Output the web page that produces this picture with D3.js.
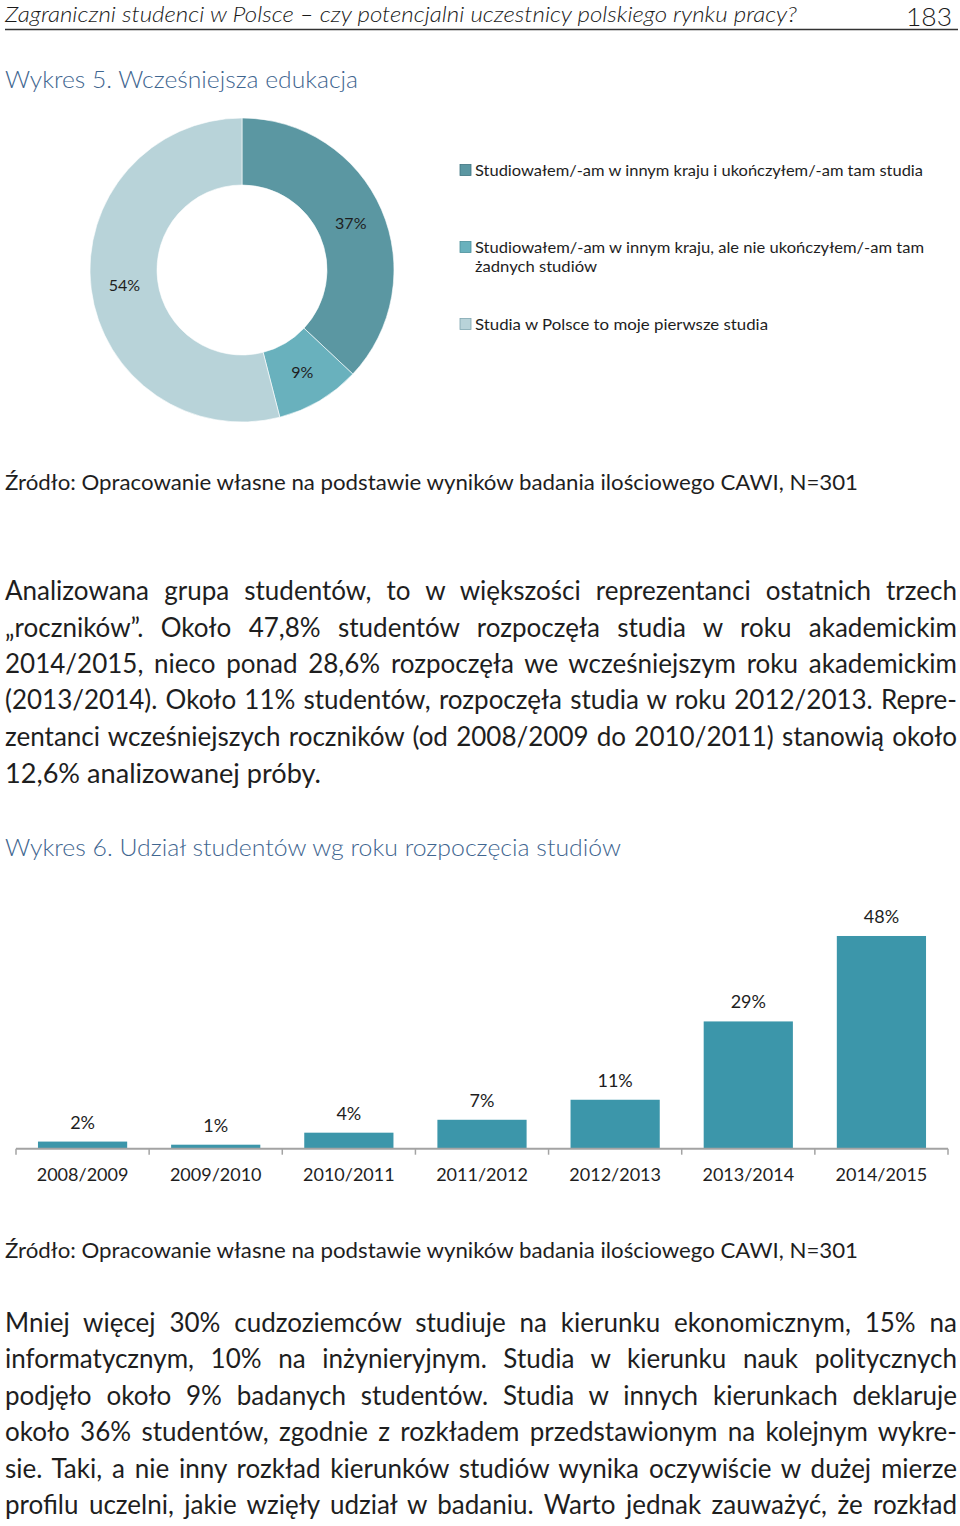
<!DOCTYPE html>
<html>
<head>
<meta charset="utf-8">
<script src="https://cdn.jsdelivr.net/npm/d3@7"></script>
<style>
  html, body { margin: 0; padding: 0; background: #fff; }
  svg { display: block; font-family: Lato, "Open Sans", sans-serif; }
</style>
</head>
<body>
<svg id="page" width="960" height="1526"></svg>
<script>
// ---------- DATA ----------
const headerText = "Zagraniczni studenci w Polsce – czy potencjalni uczestnicy polskiego rynku pracy?";
const pageNumber = "183";
const chart5Title = "Wykres 5. Wcześniejsza edukacja";
const chart6Title = "Wykres 6. Udział studentów wg roku rozpoczęcia studiów";
const sourceText = "Źródło: Opracowanie własne na podstawie wyników badania ilościowego CAWI, N=301";

const donutCategories = [
  "Studiowałem/-am w innym kraju i ukończyłem/-am tam studia",
  "Studiowałem/-am w innym kraju, ale nie ukończyłem/-am tam żadnych studiów",
  "Studia w Polsce to moje pierwsze studia"
];
const donutLegendLines = [
  ["Studiowałem/-am w innym kraju i ukończyłem/-am tam studia"],
  ["Studiowałem/-am w innym kraju, ale nie ukończyłem/-am tam", "żadnych studiów"],
  ["Studia w Polsce to moje pierwsze studia"]
];
const donutValues = [37, 9, 54];

const barCategories = ["2008/2009", "2009/2010", "2010/2011", "2011/2012", "2012/2013", "2013/2014", "2014/2015"];
const barValues = [1.6, 0.9, 3.6, 6.5, 11.0, 28.6, 47.8];

const paragraph1 = [
  "Analizowana grupa studentów, to w większości reprezentanci ostatnich trzech",
  "„roczników”. Około 47,8% studentów rozpoczęła studia w roku akademickim",
  "2014/2015, nieco ponad 28,6% rozpoczęła we wcześniejszym roku akademickim",
  "(2013/2014). Około 11% studentów, rozpoczęła studia w roku 2012/2013. Repre-",
  "zentanci wcześniejszych roczników (od 2008/2009 do 2010/2011) stanowią około",
  "12,6% analizowanej próby."
];
const paragraph2 = [
  "Mniej więcej 30% cudzoziemców studiuje na kierunku ekonomicznym, 15% na",
  "informatycznym, 10% na inżynieryjnym. Studia w kierunku nauk politycznych",
  "podjęło około 9% badanych studentów. Studia w innych kierunkach deklaruje",
  "około 36% studentów, zgodnie z rozkładem przedstawionym na kolejnym wykre-",
  "sie. Taki, a nie inny rozkład kierunków studiów wynika oczywiście w dużej mierze",
  "profilu uczelni, jakie wzięły udział w badaniu. Warto jednak zauważyć, że rozkład"
];

// ---------- STYLE ----------
const donutColors = ["#5b97a2", "#69b1bd", "#b8d3d9"];
const donutStroke = ["#3f7480", "#4b8f9b", "#7fa6b0"];
const barColor = "#3c96aa";
const titleColor = "#3f6690";
const textColor = "#1e1e1e";

const svg = d3.select("#page");

function lineText(x, y, txt, size, width, opts = {}) {
  const t = svg.append("text")
    .attr("x", x).attr("y", y)
    .attr("font-size", size)
    .attr("fill", opts.fill || textColor)
    .attr("font-weight", opts.weight || 400)
    .attr("font-style", opts.italic ? "italic" : "normal")
    .attr("text-anchor", opts.anchor || "start")
    .text(txt);
  if (width) {
    t.attr("textLength", width).attr("lengthAdjust", "spacingAndGlyphs");
  }
  return t;
}
function naturalWidth(txt, size) {
  const t = svg.append("text").attr("font-size", size).text(txt);
  const w = t.node().getComputedTextLength();
  t.remove();
  return w;
}
function justifiedLine(x, y, txt, size, width) {
  const t = svg.append("text")
    .attr("x", x).attr("y", y)
    .attr("font-size", size)
    .attr("fill", textColor)
    .text(txt);
  const natural = t.node().getComputedTextLength();
  const spaces = (txt.match(/ /g) || []).length;
  if (natural < width && spaces > 0) {
    t.style("word-spacing", ((width - natural) / spaces) + "px");
  }
  return t;
}

// ---------- HEADER ----------
lineText(5, 21.5, headerText, 21.5, 792, { italic: true, weight: 300, fill: "#1a1a1a" });
lineText(952, 25.5, pageNumber, 26, 46, { anchor: "end", weight: 300, fill: "#1a1a1a" });
svg.append("line").attr("x1", 5).attr("x2", 958).attr("y1", 29.5).attr("y2", 29.5)
  .attr("stroke", "#333").attr("stroke-width", 1.3);

lineText(5, 88, chart5Title, 24, 353, { fill: titleColor, weight: 300 });

// ---------- DONUT ----------
const cx = 242, cy = 270, rOuter = 152, rInner = 85;
const pie = d3.pie().sort(null).value(d => d)(donutValues);
const arc = d3.arc().innerRadius(rInner).outerRadius(rOuter);
const gD = svg.append("g").attr("transform", `translate(${cx},${cy})`);
gD.selectAll("path").data(pie).join("path")
  .attr("d", arc)
  .attr("fill", (d, i) => donutColors[i])
  .attr("stroke", "#fff").attr("stroke-width", 0.6);
gD.selectAll("text").data(pie).join("text")
  .attr("transform", d => `translate(${arc.centroid(d)})`)
  .attr("text-anchor", "middle").attr("dy", "0.36em")
  .attr("font-size", 16).attr("fill", textColor)
  .text(d => d.data + "%");

const legendRows = [170, 247, 324];
const legendWidths = [[448], [449, 122], [293]];
donutLegendLines.forEach((lines, i) => {
  svg.append("rect")
    .attr("x", 460).attr("y", legendRows[i] - 5.5).attr("width", 11).attr("height", 11)
    .attr("fill", donutColors[i]).attr("stroke", donutStroke[i]).attr("stroke-width", 0.8);
  lines.forEach((ln, j) => {
    lineText(475, legendRows[i] + 6 + j * 19, ln, 16, legendWidths[i][j]);
  });
});

lineText(5, 490, sourceText, 21, 853);

// ---------- BODY SIZE: largest size that keeps every justified line inside the column ----------
const justified = paragraph1.slice(0, -1).concat(paragraph2);
const maxW25 = d3.max(justified, t => naturalWidth(t, 25));
const bodySize = Math.min(26, 25 * 946 / maxW25);

// ---------- PARAGRAPH 1 ----------
const p1Base = [600, 637, 673, 709, 746, 783];
paragraph1.forEach((ln, i) => {
  if (i < paragraph1.length - 1) justifiedLine(5, p1Base[i], ln, bodySize, 952);
  else lineText(5, p1Base[i], ln, bodySize, 316);
});

lineText(5, 856, chart6Title, 24, 616, { fill: titleColor, weight: 300 });

// ---------- BAR CHART ----------
const baseY = 1148.7;
const x = d3.scaleBand().domain(barCategories).range([16, 948]).paddingInner(0.33).paddingOuter(0.165);
const y = d3.scaleLinear().domain([0, 50]).range([baseY, baseY - 222.5]);
const gB = svg.append("g");
gB.selectAll("rect").data(barValues).join("rect")
  .attr("x", (d, i) => x(barCategories[i]))
  .attr("width", x.bandwidth())
  .attr("y", d => y(d))
  .attr("height", d => baseY - y(d))
  .attr("fill", barColor);
gB.selectAll("text.val").data(barValues).join("text").attr("class", "val")
  .attr("x", (d, i) => x(barCategories[i]) + x.bandwidth() / 2)
  .attr("y", d => y(d) - 13)
  .attr("text-anchor", "middle").attr("font-size", 18).attr("fill", textColor)
  .text(d => Math.round(d) + "%");

const axisG = svg.append("g").attr("transform", `translate(0,${baseY})`)
  .call(d3.axisBottom(x).tickSize(0).tickPadding(0));
axisG.select(".domain").attr("stroke", "#a3a3a3").attr("stroke-width", 2)
  .attr("d", "M16,0H948");
axisG.selectAll(".tick text")
  .attr("y", 32).attr("dy", 0)
  .attr("font-family", "Lato, sans-serif").attr("font-size", 18).attr("fill", textColor);
const step = x.step();
const boundaries = barCategories.map((c) => x(c) - step * 0.165).concat([948]);
axisG.selectAll("line.bound").data(boundaries).join("line").attr("class", "bound")
  .attr("x1", d => d).attr("x2", d => d).attr("y1", 0).attr("y2", 6)
  .attr("stroke", "#a3a3a3").attr("stroke-width", 1.5);

lineText(5, 1258, sourceText, 21, 853);

// ---------- PARAGRAPH 2 ----------
const p2Base = [1332, 1368, 1405, 1441, 1478, 1514];
paragraph2.forEach((ln, i) => justifiedLine(5, p2Base[i], ln, bodySize, 952));
</script>
</body>
</html>
